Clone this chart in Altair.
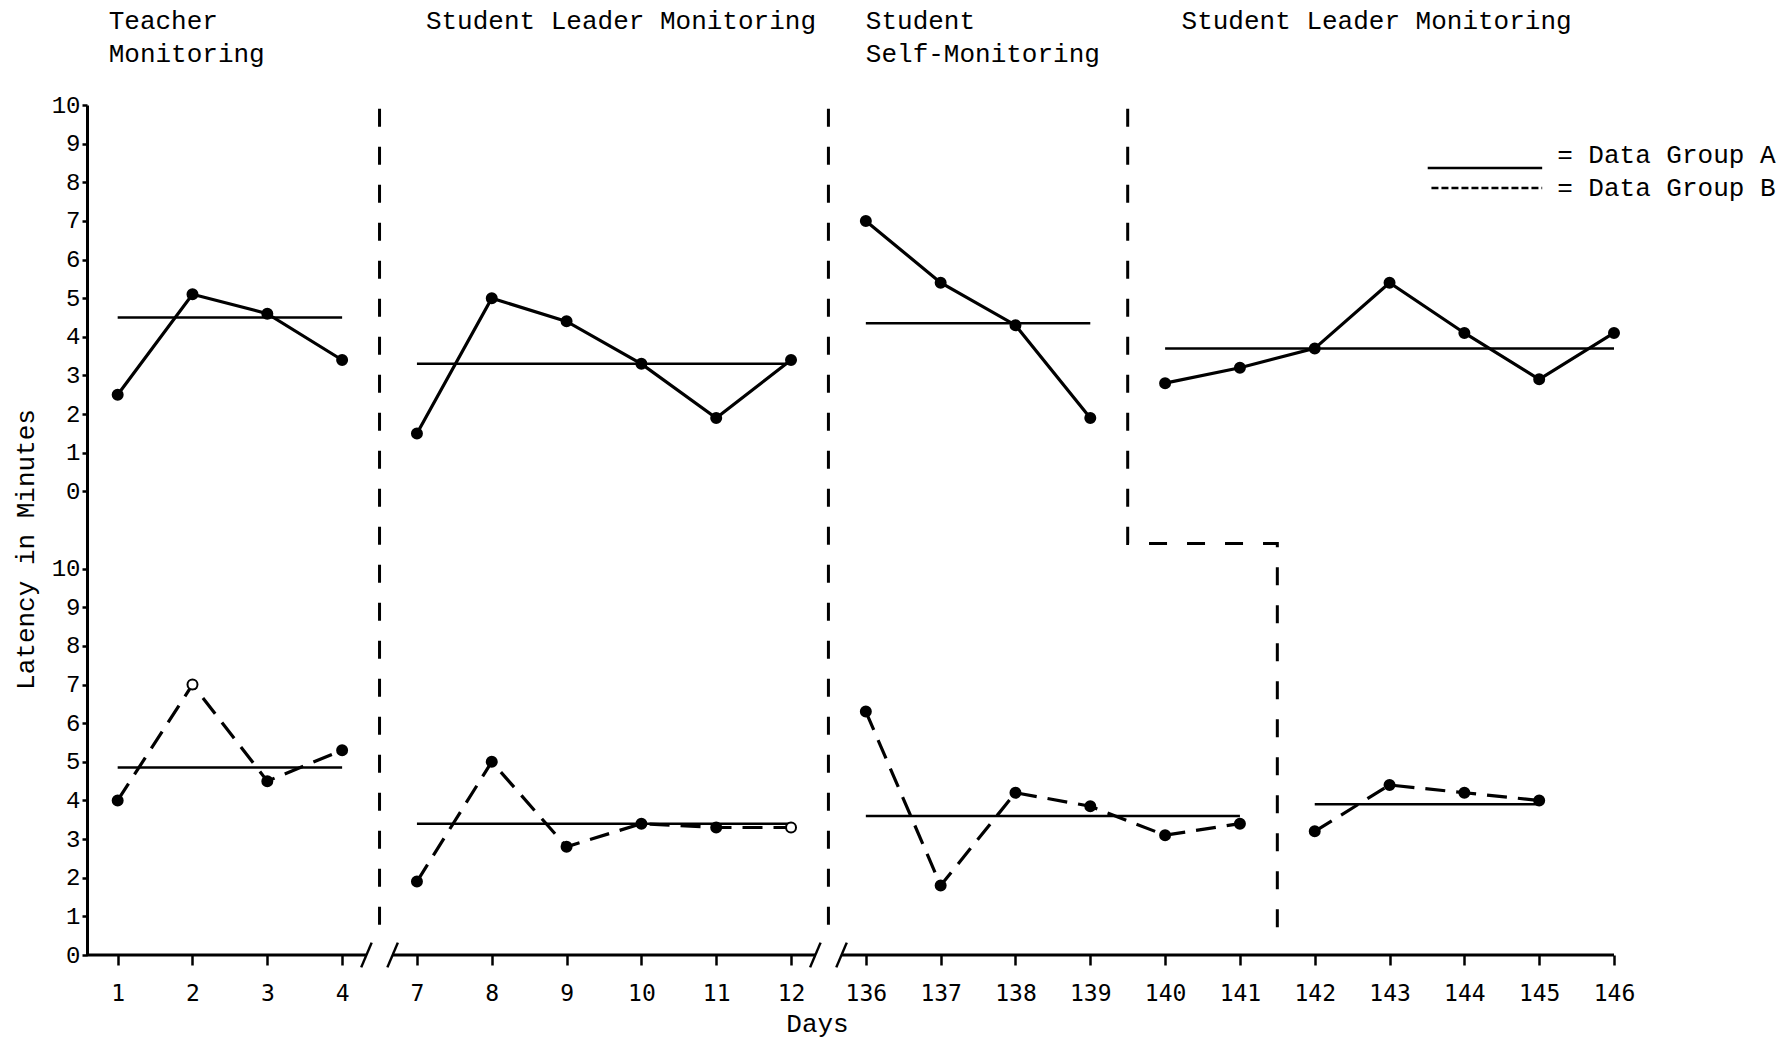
import altair as alt
import pandas as pd

# ---------------- data ----------------
DAYS = ["1", "2", "3", "4", "7", "8", "9", "10", "11", "12",
        "136", "137", "138", "139", "140", "141", "142", "143", "144", "145", "146"]
GROUP_A = [2.5, 5.1, 4.6, 3.4,
           1.5, 5.0, 4.4, 3.3, 1.9, 3.4,
           7.0, 5.4, 4.3, 1.9,
           2.8, 3.2, 3.7, 5.4, 4.1, 2.9, 4.1]
GROUP_B = [4.0, 7.0, 4.5, 5.3,
           1.9, 5.0, 2.8, 3.4, 3.3, 3.3,
           6.3, 1.8, 4.2, 3.85, 3.1, 3.4,
           3.2, 4.4, 4.2, 4.0, None]
PHASE_A = [1, 1, 1, 1, 2, 2, 2, 2, 2, 2, 3, 3, 3, 3, 4, 4, 4, 4, 4, 4, 4]
PHASE_B = [1, 1, 1, 1, 2, 2, 2, 2, 2, 2, 3, 3, 3, 3, 3, 3, 4, 4, 4, 4, None]
MEAN_A = [4.5, 3.3, 4.35, 3.7]
MEAN_B = [4.85, 3.4, 3.6, 3.9]
OPEN_B = ["2", "12"]
PHASE_TITLES = [["Teacher", "Monitoring"], ["Student Leader Monitoring"],
                ["Student", "Self-Monitoring"], ["Student Leader Monitoring"]]
LEGEND_LABELS = ["= Data Group A", "= Data Group B"]
Y_TICKS = list(range(0, 11))

# ---------------- layout constants ----------------
OFFSET = 12          # upper panel sits 12 units above the lower one
X_MIN = -0.41
Y_MAX = 22
FONT = "Liberation Mono"
TITLE_X = [-0.12, 4.12, 10.0, 14.22]

# points table
rows = []
for i, d in enumerate(DAYS):
    if GROUP_A[i] is not None:
        rows.append(dict(idx=i, day=d, group="A", value=GROUP_A[i],
                         phase=PHASE_A[i], open=False, yp=GROUP_A[i] + OFFSET))
    if GROUP_B[i] is not None:
        rows.append(dict(idx=i, day=d, group="B", value=GROUP_B[i],
                         phase=PHASE_B[i], open=d in OPEN_B, yp=GROUP_B[i]))
pts = pd.DataFrame(rows)


def spans(phases):
    out = {}
    for i, p in enumerate(phases):
        if p is None:
            continue
        out.setdefault(p, [i, i])
        out[p][1] = i
    return [out[k] for k in sorted(out)]


SP_A, SP_B = spans(PHASE_A), spans(PHASE_B)

mean_rows = []
for k, (a, b) in enumerate(SP_A):
    mean_rows.append(dict(x=a, x2=b, y=MEAN_A[k] + OFFSET))
for k, (a, b) in enumerate(SP_B):
    mean_rows.append(dict(x=a, x2=b, y=MEAN_B[k]))
means = pd.DataFrame(mean_rows)

# phase-change lines (boundaries between phases)
bA = [(SP_A[k][1] + SP_A[k + 1][0]) / 2 for k in range(len(SP_A) - 1)]
bB = [(SP_B[k][1] + SP_B[k + 1][0]) / 2 for k in range(len(SP_B) - 1)]
TOP, BOTTOM, STEP_Y = OFFSET + 9.9, 0.35, 10.65
pl_rows = []
for k in range(len(bA)):
    for o, (xx, yy) in enumerate([(bA[k], TOP), (bA[k], STEP_Y), (bB[k], STEP_Y), (bB[k], BOTTOM)]):
        pl_rows.append(dict(line=k, o=o, x=xx, y=yy))
plines = pd.DataFrame(pl_rows)

# x axis segments with breaks
GAP = 0.175
edges = [X_MIN]
for b in bA[:2]:
    edges += [b - GAP, b + GAP]
edges.append(len(DAYS) - 1)
segs = pd.DataFrame([dict(x=edges[i], x2=edges[i + 1], y=0, y2=0)
                     for i in range(0, len(edges), 2)])
slash_rows = []
for e in edges[1:-1]:
    slash_rows.append(dict(x=e - 0.07, x2=e + 0.07, y=-0.32, y2=0.32))
slashes = pd.DataFrame(slash_rows)

# phase titles
t_rows = []
for k, lines in enumerate(PHASE_TITLES):
    for j, t in enumerate(lines):
        t_rows.append(dict(x=TITLE_X[k], y=OFFSET + 12.17 - 0.85 * j, t=t))
titles = pd.DataFrame(t_rows)

# legend
leg_lines = pd.DataFrame([dict(x=17.51, x2=19.04, y=OFFSET + 8.37, g="A"),
                          dict(x=17.56, x2=19.04, y=OFFSET + 7.85, g="B")])
leg_text = pd.DataFrame([dict(x=19.24, y=OFFSET + 8.7, t=LEGEND_LABELS[0]),
                         dict(x=19.24, y=OFFSET + 7.85, t=LEGEND_LABELS[1])])

# ---------------- scales & axes ----------------
label_expr = "[" + ",".join("'%s'" % d for d in DAYS) + "][datum.value]"
xs = alt.Scale(domain=[X_MIN, len(DAYS) - 1], nice=False, zero=False)
ys = alt.Scale(domain=[0, Y_MAX], nice=False, zero=False)
xaxis = alt.Axis(values=list(range(len(DAYS))), labelExpr=label_expr, title="Days",
                 domain=False, grid=False, tickSize=10, tickWidth=2.5, tickColor="black",
                 labelFont="DejaVu Sans Mono", labelFontSize=23, labelColor="black",
                 labelPadding=17, labelOverlap=False, labelFlush=False,
                 titleFont=FONT, titleFontSize=26, titleFontWeight="normal",
                 titleColor="black", titleX=730, titleY=68, titleBaseline="middle",
                 titleAlign="center")
yaxis = alt.Axis(values=Y_TICKS + [v + OFFSET for v in Y_TICKS],
                 labelExpr="datum.value > %d ? datum.value - %d : datum.value" % (OFFSET - 1, OFFSET),
                 title="Latency in Minutes", grid=False, domainWidth=3, domainColor="black",
                 tickSize=5, tickWidth=2.5, tickColor="black",
                 labelFont=FONT, labelFontSize=24, labelColor="black", labelPadding=2,
                 labelFlush=False, labelOverlap=False,
                 titleFont=FONT, titleFontSize=26, titleFontWeight="normal", titleColor="black",
                 titleX=-62, titleY=444, titleAlign="center", titleBaseline="middle")


def X(f):
    return alt.X(f, type="quantitative", scale=xs, axis=xaxis)


def Y(f):
    return alt.Y(f, type="quantitative", scale=ys, axis=yaxis)


base_pts = alt.Chart(pts)

line_a = base_pts.transform_filter("datum.group == 'A'").mark_line(
    color="black", strokeWidth=3.2).encode(x=X("idx"), y=Y("yp"), detail="phase:N")
line_b = base_pts.transform_filter("datum.group == 'B'").mark_line(
    color="black", strokeWidth=3.2, strokeDash=[20, 11]).encode(x=X("idx"), y=Y("yp"), detail="phase:N")
mean_rules = alt.Chart(means).mark_rule(color="black", strokeWidth=2.5).encode(
    x=X("x"), x2="x2", y=Y("y"))
dots = base_pts.mark_point(shape="circle", filled=True, size=100, stroke="black",
                           strokeWidth=2, opacity=1).encode(
    x=X("idx"), y=Y("yp"),
    fill=alt.condition("datum.open", alt.value("white"), alt.value("black")))
phase_lines = alt.Chart(plines).mark_line(color="black", strokeWidth=3, strokeDash=[18, 20]).encode(
    x=X("x"), y=Y("y"), detail="line:N", order="o:Q")
axis_segs = alt.Chart(segs).mark_rule(color="black", strokeWidth=3).encode(
    x=X("x"), x2="x2", y=Y("y"), y2="y2")
axis_slashes = alt.Chart(slashes).mark_rule(color="black", strokeWidth=2.5).encode(
    x=X("x"), x2="x2", y=Y("y"), y2="y2")
title_text = alt.Chart(titles).mark_text(align="left", baseline="middle", font=FONT,
                                         fontSize=26, color="black").encode(
    x=X("x"), y=Y("y"), text="t:N")
leg_a = alt.Chart(leg_lines).transform_filter("datum.g == 'A'").mark_rule(
    color="black", strokeWidth=2.5).encode(x=X("x"), x2="x2", y=Y("y"))
leg_b = alt.Chart(leg_lines).transform_filter("datum.g == 'B'").mark_rule(
    color="black", strokeWidth=2.5, strokeDash=[7, 3]).encode(x=X("x"), x2="x2", y=Y("y"))
leg_t = alt.Chart(leg_text).mark_text(align="left", baseline="middle", font=FONT,
                                      fontSize=26, color="black").encode(
    x=X("x"), y=Y("y"), text="t:N")

chart = alt.layer(
    phase_lines, axis_segs, axis_slashes, mean_rules, line_a, line_b, dots,
    title_text, leg_a, leg_b, leg_t
).properties(
    width=1527, height=850,
    autosize=alt.AutoSizeParams(type="none"),
    padding={"left": 79, "top": 97, "right": 166, "bottom": 84},
    background="white",
).configure_view(strokeWidth=0)

chart.save("out.html", embed_options={"renderer": "svg", "actions": False})
